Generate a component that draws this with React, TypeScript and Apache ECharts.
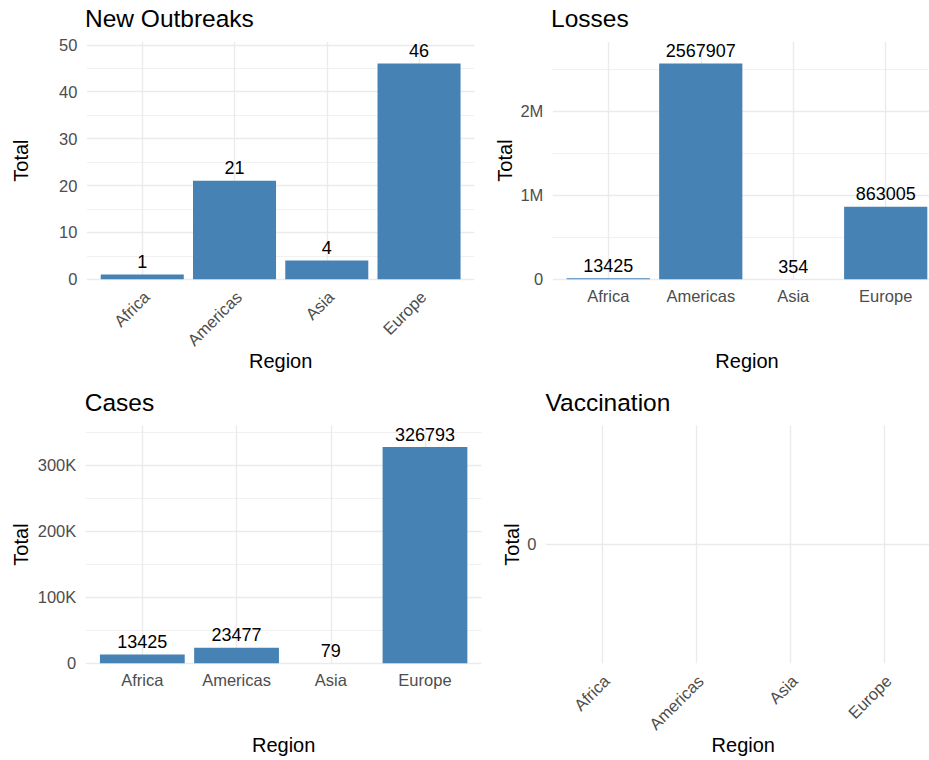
import React, { useEffect, useRef } from 'react';
import * as echarts from 'echarts';

// ---- data ----
const regions = ['Africa', 'Americas', 'Asia', 'Europe'];
const newOutbreaksTotals = [1, 21, 4, 46];
const lossesTotals = [13425, 2567907, 354, 863005];
const casesTotals = [13425, 23477, 79, 326793];
const vaccinationTotals: (number | null)[] = [null, null, null, null];

const panelTitles = ['New Outbreaks', 'Losses', 'Cases', 'Vaccination'];
const yTickSteps = [10, 1000000, 100000, 1];
const yTickSuffix = ['', 'M', 'K', ''];
const xAxisTitle = 'Region';
const yAxisTitle = 'Total';

const FONT = '"Liberation Sans", Arial, Helvetica, sans-serif';
const BAR = '#4682B4';
const GRID = '#EBEBEB';
const TICK = '#4D4D4D';

const panels = [
  { left: 86.9, top: 42, width: 387.5, height: 237.3, rotate: 45, values: newOutbreaksTotals },
  { left: 552.8, top: 42, width: 388.4, height: 237.3, rotate: 0, values: lossesTotals },
  { left: 85.8, top: 425.5, width: 395.7, height: 237.8, rotate: 0, values: casesTotals },
  { left: 545.9, top: 425.5, width: 394.8, height: 237.8, rotate: 45, values: vaccinationTotals },
];

const titlePos = [
  { x: 85, y: 18.5 },
  { x: 551, y: 18.8 },
  { x: 84.8, y: 402.5 },
  { x: 545.5, y: 402.5 },
];
const regionY = [361.4, 361.4, 744.8, 744.8];
const totalPos = [
  { x: 21.4, y: 160.6 },
  { x: 504.8, y: 160.5 },
  { x: 21.4, y: 544.5 },
  { x: 512.1, y: 544.5 },
];

function isMult(v: number, step: number) {
  const r = v / step;
  return Math.abs(r - Math.round(r)) < 1e-6;
}

export default function App() {
  const ref = useRef<HTMLDivElement>(null);
  useEffect(() => {
    if (!ref.current) return;
    const chart = echarts.init(ref.current, undefined, { renderer: 'svg' });

    const grids = panels.map((p) => ({ left: p.left, top: p.top, width: p.width, height: p.height }));

    const xAxes = panels.map((p, i) => ({
      gridIndex: i,
      type: 'value',
      min: 0.4,
      max: 4.6,
      splitNumber: 4,
      axisLine: { show: false },
      axisTick: { show: false },
      splitLine: { show: true, showMinLine: false, showMaxLine: false, lineStyle: { color: GRID, width: 1.4 } },
      axisLabel: {
        rotate: p.rotate,
        margin: p.rotate ? 19 : 8.5,
        padding: p.rotate ? [0, -6, 0, 0] : 0,
        color: TICK,
        fontSize: 16.5,
        fontFamily: FONT,
        formatter: (v: number) => {
          const k = Math.round(v);
          return Math.abs(v - k) < 1e-6 && k >= 1 && k <= regions.length ? regions[k - 1] : '';
        },
      },
    }));

    const yAxes = panels.map((p, i) => {
      const nums = p.values.filter((v): v is number => v != null);
      const empty = nums.length === 0;
      const step = yTickSteps[i];
      const suffix = yTickSuffix[i];
      const divisor = suffix === 'M' ? 1e6 : suffix === 'K' ? 1e3 : 1;
      return {
        gridIndex: i,
        type: 'value',
        min: empty ? -step : 0,
        max: empty ? step : Math.max(...nums) * 1.1,
        interval: step,
        axisLine: { show: false },
        axisTick: { show: false },
        splitLine: { show: true, showMinLine: !empty, showMaxLine: false, lineStyle: { color: GRID, width: 1.4 } },
        minorTick: { show: false, splitNumber: 2 },
        minorSplitLine: { show: !empty, lineStyle: { color: GRID, width: 0.7 } },
        axisLabel: {
          margin: 9.5,
          color: TICK,
          fontSize: 16.5,
          fontFamily: FONT,
          formatter: (v: number) => {
            if (empty) return Math.abs(v) < 1e-9 ? '0' : '';
            if (!isMult(v, step)) return '';
            if (v === 0) return '0';
            return String(Math.round(v / divisor)) + suffix;
          },
        },
      };
    });

    const series = panels.map((p, i) => ({
      type: 'bar',
      xAxisIndex: i,
      yAxisIndex: i,
      barWidth: '90%',
      itemStyle: { color: BAR },
      data: p.values.map((v, k) => [k + 1, v]),
      label: {
        show: true,
        position: 'top',
        distance: 3.5,
        color: '#000000',
        fontSize: 18,
        fontFamily: FONT,
        formatter: (prm: any) => String(prm.value[1]),
      },
    }));

    const graphic: any[] = [];
    panels.forEach((p, i) => {
      graphic.push({
        type: 'text',
        x: titlePos[i].x,
        y: titlePos[i].y,
        style: { text: panelTitles[i], fill: '#000', fontSize: 24.5, fontFamily: FONT, align: 'left', verticalAlign: 'middle' },
      });
      graphic.push({
        type: 'text',
        x: p.left + p.width / 2,
        y: regionY[i],
        style: { text: xAxisTitle, fill: '#000', fontSize: 20, fontFamily: FONT, align: 'center', verticalAlign: 'middle' },
      });
      graphic.push({
        type: 'text',
        x: totalPos[i].x,
        y: totalPos[i].y,
        rotation: Math.PI / 2,
        style: { text: yAxisTitle, fill: '#000', fontSize: 20, fontFamily: FONT, align: 'center', verticalAlign: 'middle' },
      });
    });

    chart.setOption({
      animation: false,
      backgroundColor: '#ffffff',
      grid: grids,
      xAxis: xAxes,
      yAxis: yAxes,
      series,
      graphic,
    } as any);

    return () => chart.dispose();
  }, []);

  // The right-hand panels run past the 929px window edge, as in the reference.
  return <div ref={ref} style={{ position: 'fixed', left: 0, top: 0, width: 960, height: 760 }} />;
}
